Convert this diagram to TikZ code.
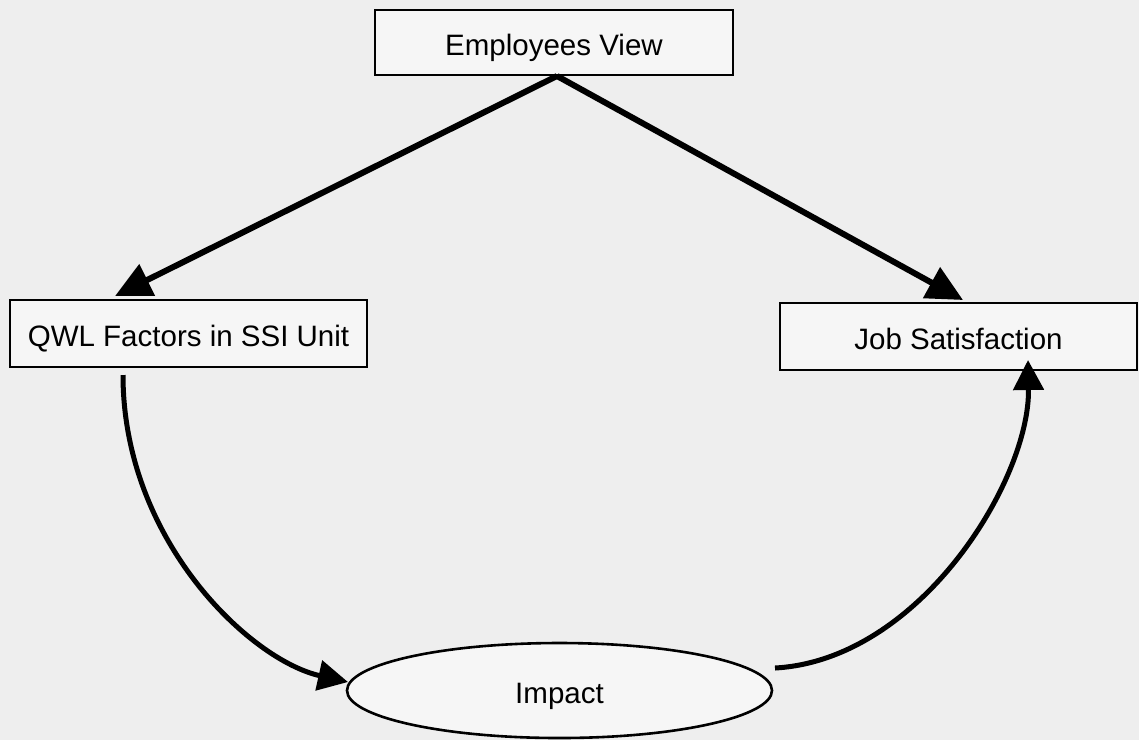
\documentclass[tikz,border=0pt]{standalone}
\usepackage{fontspec}
\setmainfont{Liberation Sans}
\usetikzlibrary{arrows.meta,shapes.geometric,calc}
\definecolor{paper}{RGB}{238,238,238}
\begin{document}
\begin{tikzpicture}[x=1pt,y=-1pt,
  every node/.style={font=\fontsize{29.5}{35}\selectfont, text=black, text height=26pt, text depth=0pt},
  box/.style={draw=black, line width=2.6pt, rectangle, inner sep=0pt, fill=paper!50!white},
  oval/.style={draw=black, line width=2.6pt, ellipse, inner sep=0pt, fill=paper!50!white},
  arr/.style={line width=6pt, -{Triangle[length=36pt,width=34pt]}},
  carr/.style={line width=5pt, -{Triangle[length=30pt,width=30pt]}}]
\fill[paper] (0,0) rectangle (1139,740);
\useasboundingbox (0,0) rectangle (1139,740);
\node[box, minimum width=358pt, minimum height=65pt] (ev) at (554,42.5) {Employees View};
\node[box, minimum width=357pt, minimum height=67pt] (qwl) at (188.5,333.5) {QWL Factors in SSI Unit};
\node[box, minimum width=357pt, minimum height=67pt] (js) at (958.5,336.5) {Job Satisfaction};
\node[oval, minimum width=425pt, minimum height=95pt] (imp) at (559.5,690.5) {Impact};
\coordinate (apex) at (557,76);
\coordinate (qwlin) at (115,296);
\coordinate (jsin) at (963,300);
\coordinate (qwlout) at (123,375);
\coordinate (impin) at (348,682);
\coordinate (impout) at (775,668);
\coordinate (jsbot) at (1028,360);
\draw[arr] (apex) -- (qwlin);
\draw[arr] (apex) -- (jsin);
\draw[carr] (qwlout) .. controls (123,540) and (250,660) .. (impin);
\draw[carr] (impout) .. controls (920,660) and (1030,480) .. (jsbot);
\end{tikzpicture}
\end{document}
